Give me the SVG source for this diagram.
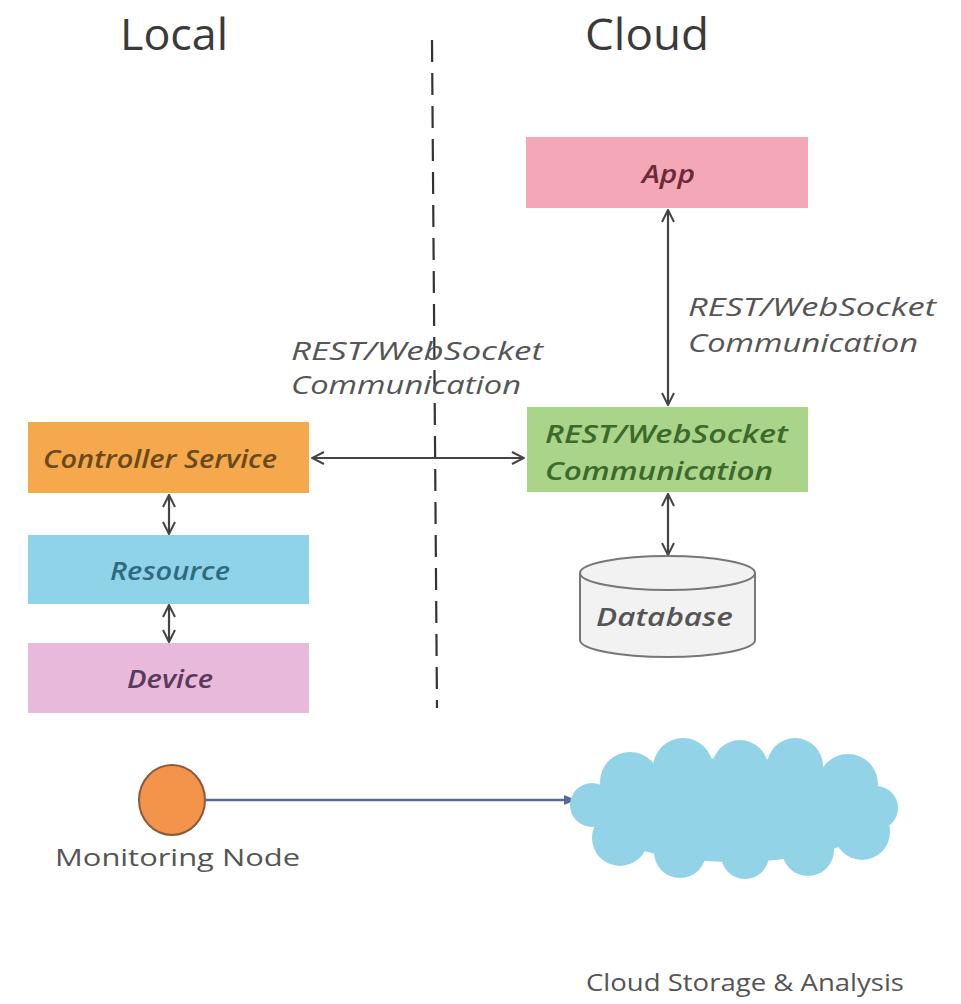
<svg xmlns="http://www.w3.org/2000/svg" width="961" height="1004" viewBox="0 0 961 1004">
<defs>
<style>
.title{font-family:"Open Sans","Liberation Sans",sans-serif;font-size:44px;fill:#3a3a3a}
.lbl{font-family:"Open Sans","Liberation Sans",sans-serif;font-style:italic;font-size:25px;fill:#555}
.nt{font-family:"Open Sans","Liberation Sans",sans-serif;font-style:italic;font-size:25px;font-weight:600}
.cap{font-family:"Open Sans","Liberation Sans",sans-serif;font-size:24px;fill:#555}
.con{stroke:#444;stroke-width:2.2;fill:none}
</style>
<marker id="ah" viewBox="0 0 14 14" refX="13" refY="7" markerWidth="14" markerHeight="14" markerUnits="userSpaceOnUse" orient="auto-start-reverse">
<path d="M1,1 L13,7 L1,13" fill="none" stroke="#444" stroke-width="2"/>
</marker>
<marker id="fh" viewBox="0 0 12 12" refX="11" refY="6" markerWidth="12" markerHeight="12" markerUnits="userSpaceOnUse" orient="auto">
<path d="M0,1 L12,6 L0,11 Z" fill="#55699a"/>
</marker>
</defs>
<rect width="961" height="1004" fill="#ffffff"/>
<text class="title" x="120" y="50" textLength="108" lengthAdjust="spacingAndGlyphs">Local</text>
<text class="title" x="585" y="50" textLength="124" lengthAdjust="spacingAndGlyphs">Cloud</text>
<line x1="432" y1="40" x2="437" y2="708" stroke="#333" stroke-width="2.2" stroke-dasharray="22,11"/>
<g id="connectors">
<line class="con" x1="668" y1="210" x2="668" y2="405" marker-start="url(#ah)" marker-end="url(#ah)"/>
<line class="con" x1="312" y1="458" x2="524" y2="458" marker-start="url(#ah)" marker-end="url(#ah)"/>
<line class="con" x1="668" y1="494" x2="668" y2="555" marker-start="url(#ah)" marker-end="url(#ah)"/>
<line class="con" x1="169" y1="495" x2="169" y2="534" marker-start="url(#ah)" marker-end="url(#ah)"/>
<line class="con" x1="169" y1="605" x2="169" y2="642" marker-start="url(#ah)" marker-end="url(#ah)"/>
<line x1="206" y1="800" x2="575" y2="800" stroke="#55699a" stroke-width="2.5" marker-end="url(#fh)"/>
<text class="lbl" x="688" y="316" textLength="248" lengthAdjust="spacingAndGlyphs">REST/WebSocket</text>
<text class="lbl" x="688" y="352" textLength="230" lengthAdjust="spacingAndGlyphs">Communication</text>
<text class="lbl" x="291" y="360" textLength="252" lengthAdjust="spacingAndGlyphs">REST/WebSocket</text>
<text class="lbl" x="291" y="394" textLength="230" lengthAdjust="spacingAndGlyphs">Communication</text>
</g>
<g id="app">
<rect x="526" y="137" width="282" height="71" fill="#f4a7b6"/>
<text class="nt" x="642" y="183" textLength="53" lengthAdjust="spacingAndGlyphs" fill="#6a2a3a">App</text>
</g>
<g id="rest">
<rect x="527" y="407" width="281" height="85" fill="#a9d48a"/>
<text class="nt" x="545" y="443" textLength="243" lengthAdjust="spacingAndGlyphs" fill="#3d6a2a">REST/WebSocket</text>
<text class="nt" x="545" y="480" textLength="228" lengthAdjust="spacingAndGlyphs" fill="#3d6a2a">Communication</text>
</g>
<g id="database">
<path d="M580,573 L580,640 A87.5,17 0 0 0 755,640 L755,573" fill="#f2f2f2" stroke="#777" stroke-width="2"/>
<ellipse cx="667.5" cy="573" rx="87.5" ry="17" fill="#f2f2f2" stroke="#777" stroke-width="2"/>
<text class="nt" x="596" y="626" textLength="137" lengthAdjust="spacingAndGlyphs" fill="#555" font-weight="400">Database</text>
</g>
<g id="controller">
<rect x="28" y="422" width="281" height="71" fill="#f5a94c"/>
<text class="nt" x="43" y="468" textLength="234" lengthAdjust="spacingAndGlyphs" fill="#6a4a1a">Controller Service</text>
</g>
<g id="resource">
<rect x="28" y="535" width="281" height="69" fill="#8fd3e8"/>
<text class="nt" x="110" y="580" textLength="120" lengthAdjust="spacingAndGlyphs" fill="#2f6a80">Resource</text>
</g>
<g id="device">
<rect x="28" y="643" width="281" height="70" fill="#e9b9db"/>
<text class="nt" x="127" y="688" textLength="86" lengthAdjust="spacingAndGlyphs" fill="#5a3a5a">Device</text>
</g>
<g id="monitoring">
<ellipse cx="172" cy="800" rx="33" ry="35" fill="#f4934a" stroke="#8a5a3a" stroke-width="2"/>
<text class="cap" x="55" y="866" textLength="245" lengthAdjust="spacingAndGlyphs">Monitoring Node</text>
</g>
<g id="cloud" fill="#93d3e8">
<ellipse cx="735" cy="810" rx="148" ry="52"/>
<circle cx="630" cy="782" r="30"/>
<circle cx="683" cy="768" r="30"/>
<circle cx="740" cy="768" r="28"/>
<circle cx="795" cy="766" r="28"/>
<circle cx="848" cy="784" r="30"/>
<circle cx="620" cy="838" r="28"/>
<circle cx="680" cy="852" r="26"/>
<circle cx="745" cy="855" r="24"/>
<circle cx="808" cy="850" r="26"/>
<circle cx="862" cy="832" r="28"/>
<circle cx="592" cy="805" r="22"/>
<circle cx="876" cy="808" r="22"/>
<text class="cap" x="586" y="991" textLength="318" lengthAdjust="spacingAndGlyphs">Cloud Storage &amp; Analysis</text>
</g>
</svg>
